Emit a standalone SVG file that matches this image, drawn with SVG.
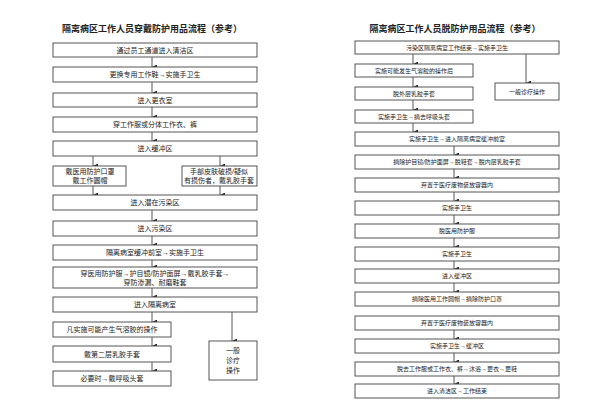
<svg xmlns="http://www.w3.org/2000/svg" width="600" height="416" viewBox="0 0 600 416">
<defs>
<marker id="ah" markerUnits="userSpaceOnUse" markerWidth="5" markerHeight="5" refX="2.5" refY="5" viewBox="0 0 5 5" orient="auto-start-reverse">
<path d="M0,0 L5,0 L2.5,5 Z" fill="#222"/>
</marker>
</defs>
<style>
text{font-family:"Liberation Sans","Noto Sans CJK SC",sans-serif;fill:#222;text-anchor:middle}
.t{font-size:9px;font-weight:bold}
.a{font-size:7px}
.b{font-size:6px}
rect{fill:#fff;stroke:#555;stroke-width:1}
.c line{stroke:#444;stroke-width:0.9;marker-end:url(#ah)}
</style>
<rect x="0" y="0" width="600" height="416" style="stroke:none"/>
<text class="t" x="152" y="32">隔离病区工作人员穿戴防护用品流程（参考）</text>
<text class="t" x="455" y="32">隔离病区工作人员脱防护用品流程（参考）</text>

<g class="c" id="connectors">
<line x1="152" y1="57" x2="152" y2="67"/>
<line x1="152" y1="82" x2="152" y2="93"/>
<line x1="152" y1="107" x2="152" y2="117"/>
<line x1="152" y1="132" x2="152" y2="141"/>
<line x1="93" y1="156" x2="93" y2="166"/>
<line x1="220" y1="156" x2="220" y2="166"/>
<line x1="93" y1="186" x2="93" y2="195"/>
<line x1="220" y1="186" x2="220" y2="195"/>
<line x1="152" y1="210" x2="152" y2="221"/>
<line x1="152" y1="236" x2="152" y2="245"/>
<line x1="152" y1="260" x2="152" y2="267"/>
<line x1="152" y1="288" x2="152" y2="297"/>
<line x1="152" y1="312" x2="152" y2="322"/>
<line x1="152" y1="337" x2="152" y2="346"/>
<line x1="152" y1="362" x2="152" y2="371"/>
<line x1="232" y1="312" x2="232" y2="341"/>
<line x1="413" y1="54" x2="413" y2="64"/>
<line x1="413" y1="77" x2="413" y2="87"/>
<line x1="413" y1="100" x2="413" y2="110"/>
<line x1="413" y1="123" x2="413" y2="132"/>
<line x1="526" y1="54" x2="526" y2="83"/>
<line x1="454" y1="146" x2="454" y2="155"/>
<line x1="454" y1="169" x2="454" y2="178"/>
<line x1="454" y1="192" x2="454" y2="201"/>
<line x1="454" y1="215" x2="454" y2="224"/>
<line x1="454" y1="238" x2="454" y2="247"/>
<line x1="454" y1="261" x2="454" y2="269"/>
<line x1="454" y1="283" x2="454" y2="292"/>
<line x1="454" y1="330" x2="454" y2="339"/>
<line x1="454" y1="353" x2="454" y2="362"/>
<line x1="454" y1="376" x2="454" y2="384"/>
</g>

<g id="L1"><rect x="53" y="43" width="204" height="14"/><text class="a" x="155" y="52.5">通过员工通道进入清洁区</text></g>
<g id="L2"><rect x="53" y="67" width="204" height="15"/><text class="a" x="155" y="77">更换专用工作鞋→实施手卫生</text></g>
<g id="L3"><rect x="53" y="93" width="204" height="14"/><text class="a" x="155" y="102.5">进入更衣室</text></g>
<g id="L4"><rect x="53" y="117" width="204" height="15"/><text class="a" x="155" y="127">穿工作服或分体工作衣、裤</text></g>
<g id="L5"><rect x="53" y="141" width="204" height="15"/><text class="a" x="155" y="151">进入缓冲区</text></g>
<g id="L6a"><rect x="53" y="166" width="73" height="20"/><text class="a" x="90" y="174">戴医用防护口罩</text><text class="a" x="90" y="183">戴工作圆帽</text></g>
<g id="L6b"><rect x="182" y="166" width="75" height="20"/><text class="a" x="219" y="174">手部皮肤破损/疑似</text><text class="a" x="219" y="183">有损伤者，戴乳胶手套</text></g>
<g id="L7"><rect x="53" y="195" width="204" height="15"/><text class="a" x="155" y="205">进入潜在污染区</text></g>
<g id="L8"><rect x="53" y="221" width="204" height="15"/><text class="a" x="155" y="231">进入污染区</text></g>
<g id="L9"><rect x="53" y="245" width="204" height="15"/><text class="a" x="155" y="255">隔离病室缓冲前室→实施手卫生</text></g>
<g id="L10"><rect x="53" y="267" width="204" height="21"/><text class="a" x="155" y="276">穿医用防护服→护目镜/防护面屏→戴乳胶手套→</text><text class="a" x="155" y="285">穿防渗漏、耐磨鞋套</text></g>
<g id="L11"><rect x="53" y="297" width="204" height="15"/><text class="a" x="155" y="307">进入隔离病室</text></g>
<g id="L12"><rect x="53" y="322" width="118" height="15"/><text class="a" x="112" y="332">凡实施可能产生气溶胶的操作</text></g>
<g id="L13"><rect x="53" y="346" width="118" height="16"/><text class="a" x="112" y="356.5">戴第二层乳胶手套</text></g>
<g id="L14"><rect x="53" y="371" width="118" height="15"/><text class="a" x="112" y="381">必要时→戴呼吸头套</text></g>
<g id="LS"><rect x="209" y="341" width="48" height="39"/><text class="a" x="233" y="352.5">一般</text><text class="a" x="233" y="362.5">诊疗</text><text class="a" x="233" y="372.5">操作</text></g>

<g id="R1"><rect x="355" y="41" width="204" height="13"/><text class="b" x="457" y="49.5">污染区隔离病室工作结束→实施手卫生</text></g>
<g id="R2"><rect x="355" y="64" width="118" height="13"/><text class="b" x="414" y="72.5">实施可能发生气溶胶的操作后</text></g>
<g id="R3"><rect x="355" y="87" width="118" height="13"/><text class="b" x="414" y="95.5">脱外层乳胶手套</text></g>
<g id="R4"><rect x="355" y="110" width="118" height="13"/><text class="b" x="414" y="118.5">实施手卫生→摘去呼吸头套</text></g>
<g id="RS"><rect x="495" y="83" width="64" height="17"/><text class="b" x="527" y="93.5">一般诊疗操作</text></g>
<g id="R5"><rect x="355" y="132" width="204" height="14"/><text class="b" x="457" y="141">实施手卫生→进入隔离病室缓冲前室</text></g>
<g id="R6"><rect x="355" y="155" width="204" height="14"/><text class="b" x="457" y="164">摘除护目镜/防护面屏→脱鞋套→脱内层乳胶手套</text></g>
<g id="R7"><rect x="355" y="178" width="204" height="14"/><text class="b" x="457" y="187">弃置于医疗废物装放容器内</text></g>
<g id="R8"><rect x="355" y="201" width="204" height="14"/><text class="b" x="457" y="210">实施手卫生</text></g>
<g id="R9"><rect x="355" y="224" width="204" height="14"/><text class="b" x="457" y="233">脱医用防护服</text></g>
<g id="R10"><rect x="355" y="247" width="204" height="14"/><text class="b" x="457" y="256">实施手卫生</text></g>
<g id="R11"><rect x="355" y="269" width="204" height="14"/><text class="b" x="457" y="278">进入缓冲区</text></g>
<g id="R12"><rect x="355" y="292" width="204" height="14"/><text class="b" x="457" y="301">摘除医用工作圆帽→摘除防护口罩</text></g>
<g id="R13"><rect x="355" y="316" width="204" height="14"/><text class="b" x="457" y="325">弃置于医疗废物装放容器内</text></g>
<g id="R14"><rect x="355" y="339" width="204" height="14"/><text class="b" x="457" y="348">实施手卫生→缓冲区</text></g>
<g id="R15"><rect x="355" y="362" width="204" height="14"/><text class="b" x="457" y="371">脱去工作服或工作衣、裤→沐浴→更衣→更鞋</text></g>
<g id="R16"><rect x="355" y="384" width="204" height="14"/><text class="b" x="457" y="393">进入清洁区→工作结束</text></g>
</svg>
